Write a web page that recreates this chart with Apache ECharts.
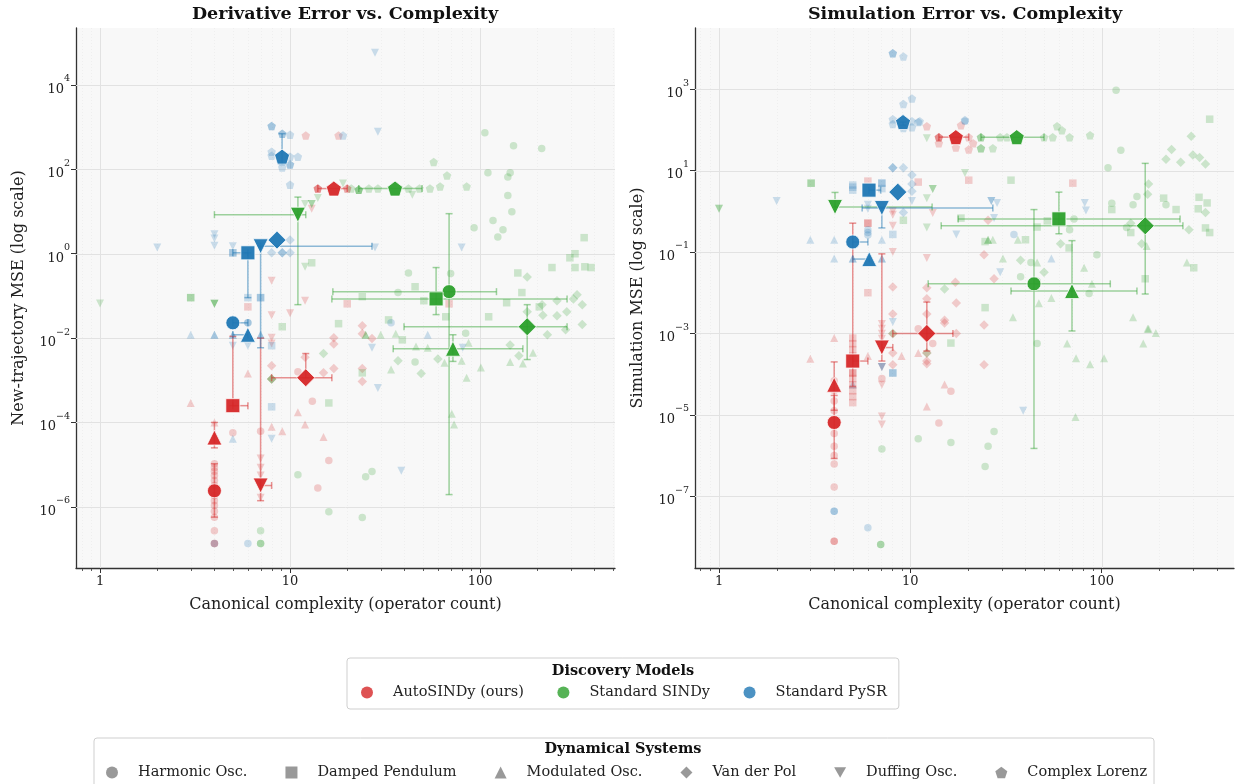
<!DOCTYPE html>
<html>
<head>
<meta charset="utf-8">
<script src="https://cdn.jsdelivr.net/npm/echarts@6/dist/echarts.min.js"></script>
<style>
html,body{margin:0;padding:0;background:#ffffff;}
#chart{width:1239px;height:784px;}
</style>
</head>
<body>
<div id="chart"></div>
<script>
const FONT = "'DejaVu Serif', serif";

const MODELS = ['AutoSINDy (ours)', 'Standard SINDy', 'Standard PySR'];
const MODEL_COLORS = ['#d62728', '#2ca02c', '#1f77b4'];
const ERRBAR_COLORS = ['rgba(214,39,40,0.5)', 'rgba(44,160,44,0.45)', 'rgba(31,119,180,0.5)'];
const SYSTEMS = ['Harmonic Osc.', 'Damped Pendulum', 'Modulated Osc.', 'Van der Pol', 'Duffing Osc.', 'Complex Lorenz'];
const SYSTEM_LEGEND_COLOR = '#808080';

const PANEL_TITLES = ['Derivative Error vs. Complexity', 'Simulation Error vs. Complexity'];
const Y_NAMES = ['New-trajectory MSE (log scale)', 'Simulation MSE (log scale)'];
const X_NAME = 'Canonical complexity (operator count)';

const X_TICKS = [1, 10, 100];
const X_MINOR_TICKS = [0.8, 0.9, 2, 3, 4, 5, 6, 7, 8, 9, 20, 30, 40, 50, 60, 70, 80, 90, 200, 300, 400, 500];
const DERIV_Y_TICKS = [1e-6, 1e-4, 1e-2, 1, 1e2, 1e4];
const SIM_Y_TICKS = [1e-7, 1e-5, 1e-3, 1e-1, 1e1, 1e3];
const DERIV_X_RANGE = [0.7475, 513];
const DERIV_Y_RANGE = [3.55e-8, 2.24e5];
const SIM_X_RANGE = [0.749, 492];
const SIM_Y_RANGE = [1.74e-9, 3.16e4];

// Summary markers: [system, x, y, xlo, xhi, ylo, yhi]
const derivAutoSummary = [
  [0, 4, 2.4e-6, 4, 4, 5.7e-7, 1.05e-5],
  [1, 5, 2.5e-4, 5, 6, 2.5e-4, 1.1e-2],
  [2, 4, 4.4e-5, 4, 4, 2.5e-5, 1e-4],
  [3, 12.1, 1.15e-3, 8, 16.6, 1.15e-3, 4.3e-3],
  [4, 7, 3.2e-6, 7, 8, 1.4e-6, 1.0e-2],
  [5, 17, 35, 14, 20, 35, 35]
];
const derivSindySummary = [
  [0, 68.7, 0.126, 16.8, 122, 1.95e-6, 8.9],
  [1, 58.7, 0.085, 16.6, 287, 0.036, 0.47],
  [2, 72, 5.6e-3, 34.9, 168, 2.8e-3, 0.012],
  [3, 177, 0.0186, 39.8, 287, 3.1e-3, 0.062],
  [4, 11, 8.4, 4, 12.1, 0.062, 22],
  [5, 35.7, 35, 23, 49.5, 35, 35]
];
const derivPysrSummary = [
  [0, 5, 0.023, 5, 6, 0.023, 0.023],
  [1, 6, 1.05, 5, 6, 0.091, 1.05],
  [2, 6, 0.012, 5, 6, 0.012, 0.012],
  [3, 8.54, 2.1, 8.54, 8.54, 2.1, 2.1],
  [4, 7, 1.5, 7, 27, 0.0059, 1.5],
  [5, 9.08, 200, 9.08, 9.08, 130, 700]
];
const simAutoSummary = [
  [0, 4, 6.5e-6, 4, 4, 8.5e-7, 3e-5],
  [1, 5, 2.1e-4, 5, 6, 5e-5, 0.51],
  [2, 4, 5.5e-5, 4, 4, 1.3e-5, 2e-4],
  [3, 12.2, 1e-3, 8.1, 16.7, 3.7e-4, 5.9e-3],
  [4, 7.1, 4.5e-4, 7.1, 8.1, 2.1e-4, 0.09],
  [5, 17.3, 66, 14.1, 20.2, 66, 66]
];
const simSindySummary = [
  [0, 44.3, 0.0165, 12.4, 111, 1.5e-6, 1.1],
  [1, 59.8, 0.65, 17.8, 257, 0.28, 2.95],
  [2, 70, 0.011, 33.6, 153, 1.15e-3, 0.19],
  [3, 169, 0.44, 14.5, 266, 9.3e-3, 15],
  [4, 4.04, 1.27, 4.04, 13, 1.27, 2.9],
  [5, 36, 66, 23.4, 50, 66, 66]
];
const simPysrSummary = [
  [0, 5, 0.176, 5, 6, 0.176, 0.176],
  [1, 6.08, 3.3, 6.08, 7, 3.3, 3.3],
  [2, 6.1, 0.067, 5, 6.1, 0.067, 0.067],
  [3, 8.6, 2.95, 8.6, 8.6, 2.95, 2.95],
  [4, 7.1, 1.2, 5.6, 27, 0.39, 1.2],
  [5, 9.16, 155, 9.16, 9.16, 130, 155]
];

// Individual runs: [x, y, system]
const derivAutoRuns = [
  [4,1.05e-5,0],[4,8.5e-6,0],[4,7e-6,0],[4,5.5e-6,0],[4,4.2e-6,0],[4,3.2e-6,0],[4,1.85e-6,0],[4,1.4e-6,0],
  [4,1.07e-6,0],[4,7.9e-7,0],[4,5.7e-7,0],[4,2.7e-7,0],[4,1.35e-7,0],[4,1.35e-7,0],
  [5,5.7e-5,0],[7,6.2e-5,0],[11,1.6e-3,0],[13.1,3.2e-4,0],[16,1.25e-5,0],[14,2.8e-6,0],
  [6,0.055,1],[20,0.065,1],[68.7,0.065,1],
  [3,2.9e-4,2],[4,1e-4,2],[6,1.44e-3,2],[11,1.74e-4,2],[12,8.9e-5,2],[8,7.9e-5,2],[9.1,6.2e-5,2],[15,4.5e-5,2],
  [8,0.0022,3],[8,1.07e-3,3],[12,0.0035,3],[17,0.0102,3],[17,0.0072,3],[17,0.0019,3],[15,0.0015,3],
  [24,0.0196,3],[24,0.0126,3],[27,0.0098,3],[24,0.0019,3],[24,9.3e-4,3],
  [7,1.4e-5,4],[7,8.5e-6,4],[7,5.5e-6,4],[7,3.5e-6,4],[7,1.65e-6,4],
  [8,0.23,4],[8,0.035,4],[10,0.039,4],[8,0.0102,4],[8,0.0074,4],[12,0.077,4],[13,11.7,4],
  [14,35,5],[14,35,5],[14,35,5],[20,35,5],[20,35,5],[12.1,630,5],[18,630,5]
];
const derivSindyRuns = [
  [106,740,0],[150,360,0],[211,310,0],[110,83,0],[140,66,0],[144,83,0],[140,24,0],[147,9.9,0],[117,6.1,0],
  [93,4.1,0],[132,3.7,0],[124,2.5,0],[42,0.35,0],[70,0.34,0],[37,0.12,0],[84,0.013,0],[45.5,0.0027,0],
  [25,5.2e-6,0],[27,6.9e-6,0],[24,5.6e-7,0],[11,5.8e-6,0],[16,7.7e-7,0],[7,2.7e-7,0],[7,1.35e-7,0],[7,1.35e-7,0],
  [3,0.091,1],[3,0.091,1],[9.1,0.0186,1],[18,0.022,1],[16,2.9e-4,1],[13,0.61,1],[45.5,0.165,1],[24,0.096,1],
  [158,0.35,1],[166,0.12,1],[239,0.47,1],[297,0.8,1],[316,1.0,1],[353,2.4,1],[356,0.49,1],[384,0.47,1],
  [316,0.47,1],[50.6,0.077,1],[66,0.032,1],[111,0.032,1],[138,0.069,1],[205,0.055,1],[33,0.027,1],[39,0.0091,1],[24,0.0015,1],
  [25,0.012,2],[25,0.012,2],[30,0.012,2],[36,0.0126,2],[46,0.0063,2],[53,0.0059,2],[34,0.0018,2],[65,0.0026,2],
  [80,0.0029,2],[85,0.00115,2],[101,0.002,2],[144,0.0027,2],[168,0.0025,2],[190,0.0045,2],[87,0.0078,2],[71,1.6e-4,2],[73,8.9e-5,2],
  [37,0.0029,3],[49,0.00144,3],[60,0.0032,3],[144,0.0069,3],[160,0.0038,3],[177,0.042,3],[214,0.035,3],[254,0.034,3],
  [286,0.042,3],[345,0.021,3],[226,0.012,3],[282,0.0158,3],[212,0.062,3],[254,0.077,3],[310,0.085,3],[324,0.107,3],
  [345,0.062,3],[177,0.28,3],[15,0.0043,3],[8,1.07e-3,3],[8,1.07e-3,3],
  [1,0.066,4],[4,0.065,4],[4,0.065,4],[4,0.065,4],[12,15,4],[13,15,4],[13,15,4],[14,21,4],[19,46,4],[12,0.49,4],[44,25,4],
  [23,33,5],[23,33,5],[23,33,5],[57,150,5],[67,71,5],[61.6,39,5],[85,39,5],[54.5,35,5],[48,35,5],[42,35,5],[29,35,5],[26,35,5],[21,35,5]
];
const derivPysrRuns = [
  [6,0.023,0],[6,0.023,0],[4,1.35e-7,0],[6,1.35e-7,0],[34,0.023,0],
  [5,1.05,1],[5,1.05,1],[6,0.091,1],[7,0.091,1],[7,0.091,1],[8,0.0066,1],[8,2.35e-4,1],
  [3,0.012,2],[4,0.012,2],[4,0.012,2],[5,0.012,2],[5,0.012,2],[7,0.012,2],[7,0.012,2],[5,4.1e-5,2],[53,0.012,2],
  [10,2.1,3],[10,1.05,3],[9.1,1.05,3],[9.1,1.05,3],[8,1.05,3],
  [2,1.4,4],[4,2.9,4],[4,2.3,4],[4,1.55,4],[5,1.5,4],[7,1.5,4],[5,0.0066,4],[6,0.0066,4],[8,4.1e-5,4],
  [28,5.8e4,4],[29,780,4],[28,1.4,4],[80,1.4,4],[27,0.0059,4],[29,6.6e-4,4],[38.5,7.2e-6,4],[81,0.0059,4],
  [8,1070,5],[8,1070,5],[9.1,700,5],[9.1,700,5],[10,660,5],[8,260,5],[8,210,5],[10,200,5],[11,200,5],
  [9.1,110,5],[10,130,5],[10,130,5],[10,43,5],[19,630,5]
];
const simAutoRuns = [
  [4,6.9e-5,0],[4,3.9e-5,0],[4,2.2e-5,0],[4,1.26e-5,0],[4,3.5e-6,0],[4,1.7e-6,0],[4,1e-6,0],[4,6.2e-7,0],
  [4,1.7e-7,0],[4,7.9e-9,0],[4,7.9e-9,0],[7.1,7.8e-5,0],[13.1,5.7e-4,0],[16.3,3.8e-5,0],[14.1,6.3e-6,0],[11,1.3e-3,0],
  [5,7.7e-4,1],[5,5.6e-4,1],[5,4e-4,1],[5,2.8e-4,1],[5,1.07e-4,1],[5,1.07e-4,1],[5,7.8e-5,1],[5,5.5e-5,1],[5,3.9e-5,1],
  [5,2.8e-5,1],[5,2e-5,1],[6,0.01,1],[6,0.51,1],[6,0.51,1],[20.2,5.8,1],[70.7,4.9,1],[11,5.2,1],[6,5.5,1],
  [4,7.7e-4,2],[3,2.4e-4,2],[6,2.8e-4,2],[9,2.8e-4,2],[11,3.3e-4,2],[15.1,5.6e-5,2],[12.2,1.6e-5,2],
  [8.1,0.0138,3],[8.1,0.003,3],[8.1,9.8e-4,3],[8.1,3.3e-4,3],[8.1,1.7e-4,3],[12.2,0.0132,3],[12.2,0.0071,3],
  [12.2,0.003,3],[12.2,3.3e-4,3],[12.2,2.1e-4,3],[12.2,1.8e-4,3],[17.4,0.0056,3],[15.1,0.0018,3],[17.4,0.001,3],
  [24.3,0.0016,3],[24.3,1.7e-4,3],[17.2,0.018,3],[24.3,0.085,3],[27.4,0.022,3],[25.5,0.6,3],[15.1,0.0021,3],
  [7.1,0.0017,4],[7.1,0.0013,4],[7.1,9.8e-4,4],[7.1,7.4e-4,4],[7.1,1.5e-4,4],[7.1,5.5e-5,4],[7.1,9.1e-6,4],[7.1,5.8e-6,4],
  [8.1,1.0,4],[8.1,0.82,4],[8.1,0.44,4],[8.1,0.1,4],[13.1,0.9,4],[12.2,0.071,4],
  [14.1,66,5],[14.1,66,5],[14.1,66,5],[20.2,66,5],[21.3,47,5],[20.2,33,5],[14.1,47,5],[17.3,37,5],[12.2,123,5],[18.4,129,5]
];
const simSindyRuns = [
  [119,930,0],[126,31.6,0],[108,11.7,0],[153,2.3,0],[113,1.58,0],[146,1.45,0],[217,1.45,0],[71.7,0.65,0],[68,0.35,0],
  [135,0.4,0],[94.5,0.085,0],[42.7,0.055,0],[37.7,0.0245,0],[46,0.019,0],[86,0.0095,0],[46,5.7e-4,0],[27.4,3.9e-6,0],
  [25.5,1.7e-6,0],[24.6,5.4e-7,0],[16.3,2.1e-6,0],[11,2.6e-6,0],[7.1,1.45e-6,0],[7,6.6e-9,0],[7,6.6e-9,0],
  [3.03,4.9,1],[3.03,4.9,1],[9.2,0.6,1],[33.6,5.8,1],[18.4,0.68,1],[52,0.58,1],[46,0.41,1],[24.6,0.18,1],[40,0.2,1],
  [67.6,0.126,1],[142,0.3,1],[113,1.1,1],[211,2.1,1],[245,1.1,1],[323,2.2,1],[356,1.6,1],[320,1.15,1],[349,0.39,1],
  [367,0.3,1],[367,182,1],[303,0.041,1],[169,0.022,1],[24.6,0.0043,1],[16.3,5.8e-4,1],
  [25.5,0.2,2],[25.5,0.2,2],[27,0.2,2],[36.5,0.2,2],[30.5,0.069,2],[46,0.055,2],[54.6,0.0074,2],[47,0.0055,2],
  [81,0.041,2],[89,0.0165,2],[146,0.0025,2],[172,0.14,2],[279,0.055,2],[34.4,0.0025,2],[174,0.0013,2],[176,0.0013,2],
  [192,0.00102,2],[165,5.7e-4,2],[66,5.7e-4,2],[73.5,2.45e-4,2],[87,1.75e-4,2],[103,2.45e-4,2],[73,8.9e-6,2],
  [294,69,3],[232,33,3],[217,19,3],[259,16,3],[300,24,3],[325,21,3],[349,14.4,3],[176,4.7,3],[174,2.6,3],[142,0.51,3],
  [162,0.16,3],[286,0.35,3],[349,0.93,3],[61,0.16,3],[50,0.032,3],[37.7,0.063,3],[15.1,0.0123,3],[8.1,1e-3,3],[12.2,3.3e-4,3],
  [1,1.15,4],[1,1.15,4],[13.1,3.5,4],[13.1,3.5,4],[12.2,2.1,4],[12.2,0.4,4],[19.3,8.7,4],[12.2,62,4],
  [23.4,35,5],[23.4,35,5],[23.4,66,5],[23.4,66,5],[27,35,5],[29.5,66,5],[32,66,5],[50,66,5],[58.5,123,5],[62,98,5],
  [55.5,66,5],[68,66,5],[87,74,5]
];
const simPysrRuns = [
  [6,0.3,0],[6,0.26,0],[6,0.35,0],[4,4.3e-8,0],[4,4.3e-8,0],[6,1.7e-8,0],[34.8,0.27,0],[19.3,162,0],
  [5,4.4,1],[5,3.9,1],[5,3.3,1],[7.1,4.9,1],[7.1,4.9,1],[7.1,3.6,1],[8.1,0.27,1],[8.1,1.07e-4,1],[8.1,1.07e-4,1],
  [3,0.2,2],[4,0.2,2],[7.1,0.2,2],[4,0.069,2],[5,0.069,2],[5,0.069,2],[7.1,0.069,2],[7.1,0.069,2],[5,5.6e-5,2],[54.6,0.069,2],
  [8.1,11.7,3],[8.1,11.7,3],[9.2,11.7,3],[10.2,4.7,3],[10.2,3.1,3],[9.2,0.93,3],[10.2,7.8,3],
  [2,1.78,4],[6,1.45,4],[6,1.15,4],[10.2,1.78,4],[26.5,1.78,4],[26.5,1.78,4],[28.4,1.6,4],[81.6,1.6,4],[82.8,1.05,4],
  [27.4,0.68,4],[17.4,0.27,4],[29.5,0.032,4],[38.9,1.26e-5,4],[8.1,0.0019,4],[7.1,1.5e-4,4],[7.1,1.5e-4,4],
  [8.1,7600,5],[8.1,7600,5],[9.2,6300,5],[10.2,590,5],[9.2,430,5],[8.1,182,5],[8.1,138,5],[10.2,162,5],[10.2,115,5],
  [11,155,5],[9.2,110,5],[19.3,174,5],[11.2,162,5]
];

// ---------- presentation ----------
const DOWN_TRI = 'path://M0,0 L10,0 L5,8.66 Z';
const PENTAGON = 'path://M50,0 L97.55,34.55 L79.39,90.45 L20.61,90.45 L2.45,34.55 Z';
const SHAPES = ['circle', 'rect', 'triangle', 'diamond', DOWN_TRI, PENTAGON];
const RUN_SIZES = [7.5, 7.5, 8, 9.5, 8, 8.5];
const SUMMARY_SIZES = [14, 14, 15, 18, 15, 15];

const panels = [
  { runs: [derivAutoRuns, derivSindyRuns, derivPysrRuns],
    summ: [derivAutoSummary, derivSindySummary, derivPysrSummary],
    yTicks: DERIV_Y_TICKS, xRange: DERIV_X_RANGE, yRange: DERIV_Y_RANGE },
  { runs: [simAutoRuns, simSindyRuns, simPysrRuns],
    summ: [simAutoSummary, simSindySummary, simPysrSummary],
    yTicks: SIM_Y_TICKS, xRange: SIM_X_RANGE, yRange: SIM_Y_RANGE }
];

const GRIDS = [
  { left: 76, top: 28, width: 539, height: 540 },
  { left: 695, top: 28, width: 539, height: 540 }
];

function supLabel(v) {
  const e = Math.round(Math.log10(v));
  return '{b|10}{s|' + (e < 0 ? '\u2212' + (-e) : String(e)) + '}';
}

function errorBarRender(color) {
  return function (params, api) {
    const x = api.value(0), y = api.value(1);
    const c = api.coord([x, y]);
    const xl = api.coord([api.value(2), y])[0];
    const xh = api.coord([api.value(3), y])[0];
    const yl = api.coord([x, api.value(4)])[1];
    const yh = api.coord([x, api.value(5)])[1];
    const st = { stroke: color, lineWidth: 1.5, fill: null };
    const cap = 3.5;
    const kids = [];
    const seg = (x1, y1, x2, y2) => kids.push({ type: 'line', shape: { x1, y1, x2, y2 }, style: st });
    if (Math.abs(xh - xl) > 1) {
      seg(xl, c[1], xh, c[1]);
      seg(xl, c[1] - cap, xl, c[1] + cap);
      seg(xh, c[1] - cap, xh, c[1] + cap);
    }
    if (Math.abs(yl - yh) > 1) {
      seg(c[0], yl, c[0], yh);
      seg(c[0] - cap, yl, c[0] + cap, yl);
      seg(c[0] - cap, yh, c[0] + cap, yh);
    }
    return { type: 'group', children: kids };
  };
}

const series = [];
const xAxes = [];
const yAxes = [];

panels.forEach((p, gi) => {
  xAxes.push({
    type: 'log', logBase: 10, gridIndex: gi, min: p.xRange[0], max: p.xRange[1],
    name: X_NAME, nameLocation: 'middle', nameGap: 29,
    nameTextStyle: { fontFamily: FONT, fontSize: 16, color: '#222' },
    axisLine: { show: true, onZero: false, lineStyle: { color: '#333', width: 1.3 } },
    axisTick: { show: true, length: 5, customValues: X_TICKS, lineStyle: { color: '#333', width: 1 } },
    axisLabel: { customValues: X_TICKS, margin: 7, fontFamily: FONT, fontSize: 13, color: '#222',
      formatter: v => String(Math.round(v)) },
    splitLine: { show: false },
    minorTick: { show: false }
  });
  yAxes.push({
    type: 'log', logBase: 10, gridIndex: gi, min: p.yRange[0], max: p.yRange[1],
    name: Y_NAMES[gi], nameLocation: 'middle', nameGap: 49,
    nameTextStyle: { fontFamily: FONT, fontSize: 16, color: '#222' },
    axisLine: { show: true, onZero: false, lineStyle: { color: '#333', width: 1.3 } },
    axisTick: { show: true, length: 5, customValues: p.yTicks, lineStyle: { color: '#333', width: 1 } },
    axisLabel: { customValues: p.yTicks, margin: 6, formatter: supLabel,
      rich: {
        b: { fontFamily: FONT, fontSize: 13, color: '#222', lineHeight: 22, verticalAlign: 'bottom' },
        s: { fontFamily: FONT, fontSize: 9.5, color: '#222', lineHeight: 9, verticalAlign: 'top' }
      } },
    splitLine: { show: false },
    minorTick: { show: false }
  });

  // major gridlines (vertical)
  series.push({
    type: 'custom', name: 'xgrid' + gi, xAxisIndex: gi, yAxisIndex: gi, silent: true, clip: false, z: 1,
    data: X_TICKS.map(v => [v, 1]),
    renderItem: (params, api) => {
      const cs = params.coordSys;
      const xx = Math.round(api.coord([api.value(0), 1])[0]) + 0.5;
      return { type: 'line', shape: { x1: xx, y1: cs.y, x2: xx, y2: cs.y + cs.height },
        style: { stroke: '#e2e2e2', lineWidth: 1 } };
    }
  });
  // minor gridlines and minor ticks
  series.push({
    type: 'custom', name: 'xminor' + gi, xAxisIndex: gi, yAxisIndex: gi, silent: true, clip: false, z: 1,
    data: X_MINOR_TICKS.map(v => [v, 1]),
    renderItem: (params, api) => {
      const cs = params.coordSys;
      const xx = Math.round(api.coord([api.value(0), 1])[0]) + 0.5;
      if (xx < cs.x + 1 || xx > cs.x + cs.width) return null;
      const b = cs.y + cs.height;
      return { type: 'group', children: [
        { type: 'line', shape: { x1: xx, y1: cs.y, x2: xx, y2: b }, style: { stroke: '#ececec', lineWidth: 0.8, lineDash: [1, 2] } },
        { type: 'line', shape: { x1: xx, y1: b, x2: xx, y2: b + 3 }, style: { stroke: '#333', lineWidth: 0.8 } }
      ] };
    }
  });
  // horizontal gridlines
  series.push({
    type: 'custom', name: 'ygrid' + gi, xAxisIndex: gi, yAxisIndex: gi, silent: true, clip: false, z: 1,
    data: p.yTicks.map(v => [1, v]),
    renderItem: (params, api) => {
      const cs = params.coordSys;
      const yy = Math.round(api.coord([1, api.value(1)])[1]) + 0.5;
      return { type: 'line', shape: { x1: cs.x, y1: yy, x2: cs.x + cs.width, y2: yy },
        style: { stroke: '#e2e2e2', lineWidth: 1 } };
    }
  });

  p.runs.forEach((runs, mi) => {
    series.push({
      type: 'scatter', name: MODELS[mi] + ' runs ' + gi, xAxisIndex: gi, yAxisIndex: gi, silent: true, z: 2,
      data: runs.map(r => [r[0], r[1], r[2]]),
      symbol: v => SHAPES[v[2]],
      symbolSize: v => RUN_SIZES[v[2]],
      itemStyle: { color: MODEL_COLORS[mi], opacity: 0.22 }
    });
  });
  p.summ.forEach((rows, mi) => {
    series.push({
      type: 'custom', name: MODELS[mi] + ' errors ' + gi, xAxisIndex: gi, yAxisIndex: gi, silent: true, clip: false, z: 3,
      data: rows.map(r => [r[1], r[2], r[3], r[4], r[5], r[6]]),
      renderItem: errorBarRender(ERRBAR_COLORS[mi])
    });
  });
  p.summ.forEach((rows, mi) => {
    series.push({
      type: 'scatter', name: MODELS[mi] + ' median ' + gi, xAxisIndex: gi, yAxisIndex: gi, silent: true, z: 4,
      data: rows.map(r => [r[1], r[2], r[0]]),
      symbol: v => SHAPES[v[2]],
      symbolSize: v => SUMMARY_SIZES[v[2]],
      itemStyle: { color: MODEL_COLORS[mi], opacity: 0.95, borderColor: '#ffffff', borderWidth: 0.8 }
    });
  });
});

// legend-only series
MODELS.forEach((m, mi) => series.push({ type: 'scatter', name: m, data: [], xAxisIndex: 0, yAxisIndex: 0,
  symbol: 'circle', itemStyle: { color: MODEL_COLORS[mi] } }));
SYSTEMS.forEach((s, si) => series.push({ type: 'scatter', name: s, data: [], xAxisIndex: 0, yAxisIndex: 0,
  symbol: SHAPES[si], itemStyle: { color: SYSTEM_LEGEND_COLOR } }));

const legendText = { fontFamily: FONT, fontSize: 14.5, color: '#222', rich: { sp: { width: 15 } } };
const legendFormatter = n => '{sp|}' + n;

const option = {
  animation: false,
  textStyle: { fontFamily: FONT },
  grid: GRIDS.map(g => Object.assign({ show: true, backgroundColor: '#f8f8f8', borderWidth: 0, containLabel: false }, g)),
  xAxis: xAxes,
  yAxis: yAxes,
  legend: [
    { data: MODELS.map(n => ({ name: n, icon: 'circle' })), left: 347, top: 658, orient: 'horizontal',
      itemWidth: 12, itemHeight: 12, itemGap: 33.5, padding: [27, 12, 9, 14], selectedMode: false,
      formatter: legendFormatter,
      borderColor: '#cfcfcf', borderWidth: 1, borderRadius: 3, backgroundColor: '#ffffff', textStyle: legendText },
    { data: SYSTEMS.map((n, i) => ({ name: n, icon: SHAPES[i] })), left: 94, top: 738, orient: 'horizontal',
      itemWidth: 12, itemHeight: 12, itemGap: 38, padding: [27, 7, 9, 12], selectedMode: false,
      formatter: legendFormatter,
      borderColor: '#cfcfcf', borderWidth: 1, borderRadius: 3, backgroundColor: '#ffffff', textStyle: legendText }
  ],
  graphic: [
    { type: 'text', x: 345, y: 14, z: 100, style: { text: PANEL_TITLES[0], font: "bold 17.5px 'DejaVu Serif'", fill: '#111', align: 'center', verticalAlign: 'middle' } },
    { type: 'text', x: 965, y: 14, z: 100, style: { text: PANEL_TITLES[1], font: "bold 17.5px 'DejaVu Serif'", fill: '#111', align: 'center', verticalAlign: 'middle' } },
    { type: 'text', x: 623, y: 671, z: 100, style: { text: 'Discovery Models', font: "bold 14.5px 'DejaVu Serif'", fill: '#111', align: 'center', verticalAlign: 'middle' } },
    { type: 'text', x: 623, y: 749, z: 100, style: { text: 'Dynamical Systems', font: "bold 14.5px 'DejaVu Serif'", fill: '#111', align: 'center', verticalAlign: 'middle' } }
  ],
  series: series
};

const chart = echarts.init(document.getElementById('chart'), null, { renderer: 'canvas' });
chart.setOption(option);
</script>
</body>
</html>
